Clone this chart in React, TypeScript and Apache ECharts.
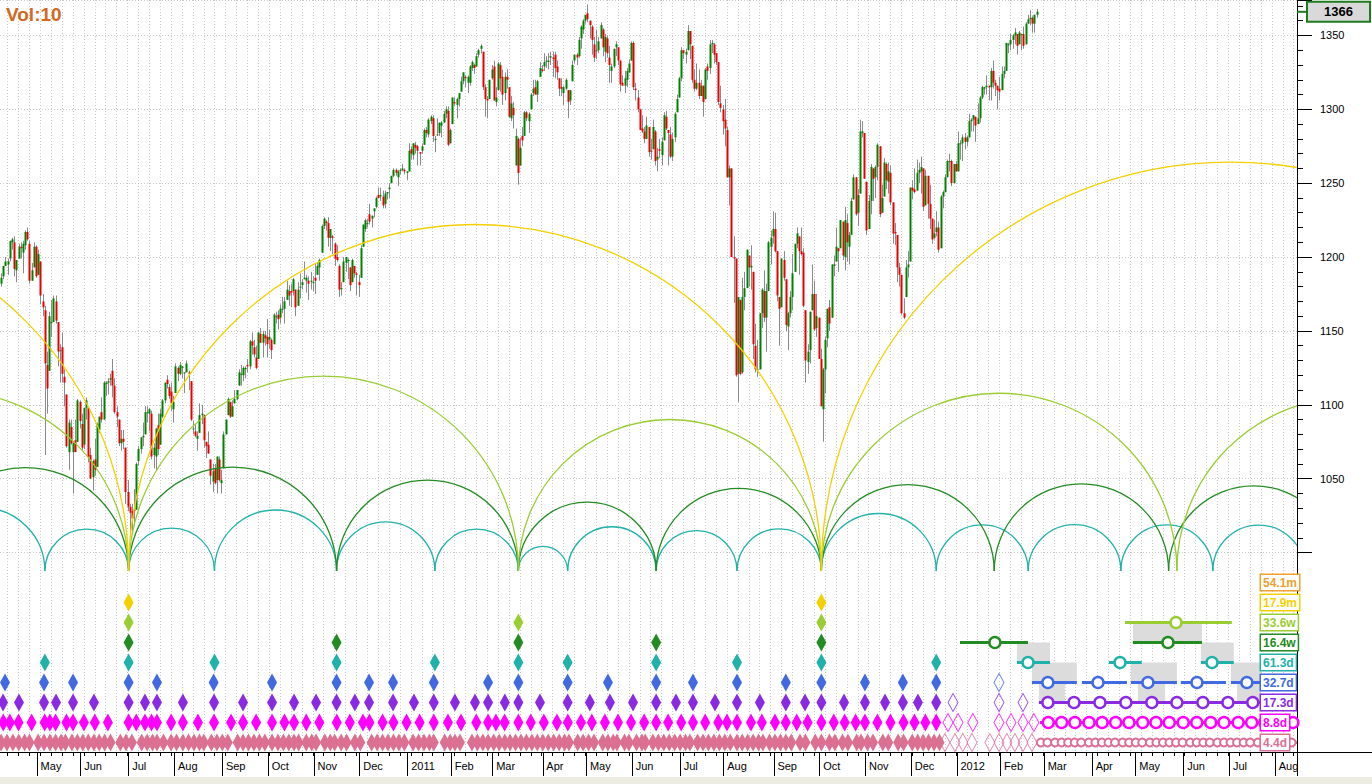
import React, { useEffect, useRef } from "react";
import * as echarts from "echarts";

// ---------- axis / calendar ----------
const START_DATE = "2010-04-08";
const N_DAYS = 595;
const HOLIDAYS = ["2010-05-31","2010-07-05","2010-09-06","2010-11-25","2010-12-24","2011-01-17","2011-02-21","2011-04-22","2011-05-30","2011-07-04","2011-09-05","2011-11-24","2011-12-26","2012-01-02","2012-01-16","2012-02-20","2012-04-06","2012-05-28","2012-07-04"];
const MONTH_NAMES = ["Jan","Feb","Mar","Apr","May","Jun","Jul","Aug","Sep","Oct","Nov","Dec"];

const PRICE_MIN = 865;
const PRICE_MAX = 1374;
const SCALE_MIN = 1000;
const PRICE_TICK = 50;
const ARC_BASE = 987.5;
const VOL_LABEL = "Vol:10";

// ---------- S&P 500 daily candles [open, close, low, high] ----------
const C_2010_04 = [[1182,1186,1180,1189],[1187,1194,1185,1194],[1194,1197,1194,1200],[1195,1197,1188,1199],[1199,1211,1197,1211],[1210,1212,1205,1213],[1210,1192,1187,1214],[1191,1198,1183,1198],[1199,1207,1199,1209],[1207,1206,1199,1210],[1203,1209,1189,1211],[1208,1217,1205,1218],[1217,1212,1211,1220],[1209,1184,1182,1211],[1184,1191,1184,1196],[1193,1207,1193,1210],[1207,1187,1186,1208]];
const C_2010_05 = [[1188,1202,1188,1205],[1197,1174,1168,1197],[1170,1166,1160,1175],[1164,1128,1066,1167],[1127,1111,1094,1136],[1123,1160,1123,1163],[1156,1156,1146,1171],[1156,1172,1156,1174],[1170,1157,1155,1174],[1156,1136,1126,1156],[1137,1137,1115,1141],[1139,1121,1115,1149],[1119,1115,1099,1124],[1107,1072,1071,1107],[1068,1088,1056,1090],[1085,1074,1073,1090],[1068,1074,1040,1075],[1076,1068,1068,1090],[1075,1103,1075,1104],[1102,1089,1084,1103]];
const C_2010_06 = [[1087,1071,1069,1094],[1073,1098,1070,1098],[1098,1103,1090,1105],[1098,1065,1061,1098],[1066,1050,1050,1071],[1051,1062,1042,1063],[1063,1056,1052,1077],[1058,1087,1058,1088],[1083,1092,1081,1092],[1095,1090,1088,1105],[1090,1115,1090,1116],[1114,1115,1106,1116],[1115,1116,1107,1118],[1117,1118,1113,1121],[1123,1113,1105,1131],[1113,1095,1094,1118],[1095,1092,1085,1099],[1090,1074,1072,1090],[1074,1077,1069,1083],[1077,1075,1070,1083],[1071,1041,1033,1071],[1041,1031,1028,1049]];
const C_2010_07 = [[1031,1027,1011,1033],[1028,1023,1015,1033],[1029,1028,1018,1043],[1029,1060,1029,1061],[1062,1070,1059,1072],[1070,1078,1067,1078],[1078,1079,1072,1088],[1080,1095,1080,1099],[1095,1095,1088,1099],[1094,1097,1082,1098],[1094,1065,1063,1096],[1066,1071,1057,1074],[1065,1084,1056,1084],[1086,1070,1066,1094],[1073,1094,1073,1097],[1092,1103,1091,1104],[1103,1115,1101,1115],[1117,1114,1111,1120],[1112,1106,1104,1114],[1109,1101,1096,1115],[1097,1102,1088,1106]];
const C_2010_08 = [[1108,1126,1108,1128],[1125,1121,1116,1126],[1121,1127,1120,1129],[1125,1126,1118,1126],[1122,1122,1108,1122],[1122,1128,1122,1130],[1122,1121,1110,1123],[1116,1090,1089,1116],[1084,1084,1080,1089],[1082,1079,1078,1087],[1077,1079,1069,1082],[1081,1093,1081,1101],[1093,1094,1087,1100],[1093,1076,1071,1093],[1075,1072,1064,1075],[1073,1067,1067,1082],[1063,1052,1046,1063],[1048,1055,1041,1060],[1057,1047,1046,1060],[1049,1065,1040,1065],[1063,1049,1048,1065],[1047,1049,1040,1056]];
const C_2010_09 = [[1057,1080,1057,1082],[1080,1090,1080,1090],[1093,1104,1093,1105],[1102,1092,1091,1102],[1092,1099,1092,1103],[1101,1104,1101,1110],[1104,1110,1103,1110],[1113,1122,1113,1124],[1121,1121,1113,1127],[1120,1125,1116,1126],[1124,1125,1118,1126],[1127,1126,1122,1131],[1126,1143,1124,1144],[1143,1140,1134,1149],[1139,1134,1132,1144],[1132,1125,1124,1140],[1131,1149,1131,1149],[1148,1142,1142,1152],[1142,1148,1132,1150],[1147,1145,1140,1150],[1146,1141,1132,1158]];
const C_2010_10 = [[1144,1146,1138,1151],[1144,1137,1131,1145],[1141,1161,1141,1162],[1160,1160,1155,1163],[1161,1158,1151,1164],[1159,1165,1155,1168],[1165,1165,1162,1173],[1165,1170,1155,1173],[1171,1178,1171,1184],[1177,1174,1167,1181],[1177,1176,1166,1182],[1177,1185,1174,1186],[1178,1166,1160,1178],[1167,1178,1167,1183],[1180,1180,1172,1189],[1181,1183,1178,1185],[1185,1186,1185,1197],[1184,1186,1176,1188],[1184,1182,1171,1187],[1184,1184,1178,1190],[1183,1183,1177,1187]];
const C_2010_11 = [[1186,1184,1175,1196],[1188,1194,1188,1196],[1193,1198,1184,1199],[1203,1221,1203,1222],[1221,1226,1219,1227],[1224,1223,1218,1225],[1223,1213,1207,1227],[1213,1219,1204,1219],[1214,1213,1202,1215],[1209,1199,1194,1210],[1200,1198,1197,1208],[1194,1178,1173,1195],[1179,1179,1174,1183],[1183,1197,1183,1200],[1196,1200,1190,1200],[1198,1198,1185,1199],[1193,1181,1177,1193],[1183,1198,1183,1199],[1194,1189,1186,1194],[1189,1188,1174,1190],[1183,1181,1173,1188]];
const C_2010_12 = [[1186,1206,1186,1208],[1207,1222,1207,1222],[1219,1225,1217,1226],[1223,1223,1220,1226],[1229,1224,1222,1236],[1226,1228,1220,1228],[1231,1233,1227,1233],[1234,1240,1233,1241],[1242,1240,1240,1247],[1241,1242,1238,1247],[1241,1235,1233,1245],[1236,1243,1233,1245],[1243,1244,1239,1244],[1246,1247,1240,1250],[1250,1255,1250,1255],[1255,1259,1254,1260],[1259,1257,1255,1260],[1254,1258,1248,1259],[1259,1259,1256,1260],[1259,1260,1258,1263],[1259,1258,1256,1260],[1257,1258,1252,1258]];
const C_2011_01 = [[1258,1272,1258,1277],[1273,1270,1266,1275],[1269,1277,1266,1277],[1276,1274,1270,1278],[1275,1272,1262,1276],[1271,1270,1262,1271],[1272,1275,1270,1277],[1276,1286,1276,1287],[1286,1284,1281,1288],[1283,1293,1281,1294],[1292,1295,1290,1296],[1294,1282,1278,1296],[1280,1280,1271,1282],[1283,1283,1282,1294],[1284,1291,1282,1291],[1289,1291,1281,1292],[1291,1297,1291,1299],[1297,1300,1294,1302],[1299,1276,1275,1302],[1277,1286,1277,1287]];
const C_2011_02 = [[1290,1308,1290,1308],[1305,1304,1302,1308],[1303,1307,1294,1308],[1307,1311,1302,1311],[1312,1319,1312,1322],[1319,1325,1317,1325],[1322,1321,1315,1323],[1318,1322,1311,1323],[1318,1329,1316,1330],[1328,1332,1326,1333],[1330,1328,1324,1331],[1329,1336,1329,1338],[1337,1340,1335,1341],[1341,1343,1338,1344],[1339,1315,1313,1339],[1315,1307,1295,1317],[1307,1306,1294,1309],[1307,1320,1307,1320],[1321,1327,1320,1330]];
const C_2011_03 = [[1329,1306,1306,1333],[1305,1308,1302,1315],[1313,1331,1313,1332],[1330,1321,1312,1332],[1322,1310,1303,1327],[1311,1322,1306,1325],[1322,1320,1314,1327],[1315,1295,1294,1315],[1294,1304,1292,1309],[1301,1296,1287,1305],[1262,1282,1262,1287],[1280,1257,1249,1281],[1262,1274,1262,1281],[1282,1279,1275,1288],[1282,1298,1282,1299],[1298,1294,1292,1299],[1292,1297,1284,1298],[1300,1310,1300,1311],[1311,1314,1309,1320],[1315,1310,1310,1320],[1310,1319,1305,1320],[1322,1328,1322,1332],[1327,1326,1325,1330]];
const C_2011_04 = [[1329,1332,1326,1338],[1333,1333,1328,1336],[1332,1333,1327,1338],[1335,1336,1330,1339],[1335,1334,1322,1339],[1337,1328,1321,1339],[1329,1325,1320,1333],[1321,1314,1309,1321],[1315,1314,1309,1321],[1311,1315,1303,1316],[1314,1320,1313,1321],[1313,1305,1294,1313],[1306,1313,1303,1313],[1319,1330,1319,1333],[1333,1337,1331,1337],[1337,1335,1330,1338],[1336,1347,1335,1349],[1348,1356,1341,1357],[1354,1360,1351,1361],[1360,1364,1358,1364]];
const C_2011_05 = [[1365,1361,1359,1371],[1360,1357,1348,1360],[1356,1347,1337,1357],[1344,1335,1332,1349],[1340,1340,1334,1354],[1340,1346,1338,1349],[1348,1357,1348,1359],[1354,1342,1336,1355],[1339,1349,1332,1351],[1348,1338,1335,1350],[1335,1330,1318,1343],[1326,1329,1318,1331],[1329,1341,1328,1341],[1342,1344,1336,1346],[1342,1333,1330,1342],[1333,1317,1312,1333],[1318,1316,1316,1323],[1316,1321,1311,1326],[1320,1326,1315,1328],[1325,1331,1325,1334],[1333,1345,1333,1346]];
const C_2011_06 = [[1345,1315,1313,1346],[1314,1313,1306,1318],[1308,1300,1298,1313],[1300,1286,1286,1300],[1287,1285,1284,1296],[1285,1280,1277,1288],[1280,1289,1280,1295],[1288,1271,1268,1288],[1272,1272,1266,1280],[1273,1288,1273,1293],[1285,1265,1262,1286],[1266,1268,1258,1274],[1273,1272,1267,1280],[1269,1278,1262,1281],[1279,1296,1279,1298],[1295,1287,1286,1299],[1286,1284,1262,1286],[1283,1268,1267,1288],[1268,1280,1265,1284],[1281,1297,1278,1298],[1298,1307,1298,1310],[1308,1321,1308,1322]];
const C_2011_07 = [[1321,1340,1319,1342],[1340,1338,1334,1340],[1337,1339,1331,1341],[1340,1353,1340,1357],[1353,1344,1334,1353],[1343,1320,1318,1343],[1320,1314,1312,1327],[1314,1318,1313,1331],[1318,1309,1307,1327],[1309,1316,1309,1320],[1316,1305,1295,1316],[1307,1327,1307,1328],[1329,1326,1320,1331],[1328,1344,1324,1347],[1344,1345,1338,1347],[1344,1337,1331,1345],[1338,1332,1330,1338],[1332,1305,1303,1332],[1304,1301,1298,1316],[1300,1292,1283,1303]];
const C_2011_08 = [[1293,1287,1275,1307],[1286,1254,1254,1288],[1254,1260,1235,1262],[1260,1200,1200,1260],[1200,1199,1169,1214],[1199,1120,1119,1199],[1121,1173,1102,1173],[1171,1121,1120,1171],[1122,1173,1121,1186],[1173,1179,1164,1190],[1179,1205,1179,1205],[1201,1193,1180,1201],[1193,1194,1178,1208],[1190,1141,1131,1190],[1140,1124,1122,1155],[1124,1124,1119,1144],[1124,1162,1124,1162],[1162,1178,1152,1179],[1177,1159,1156,1191],[1159,1177,1136,1182],[1177,1210,1177,1211],[1207,1213,1195,1218],[1214,1219,1209,1231]];
const C_2011_09 = [[1219,1204,1203,1230],[1204,1174,1170,1204],[1173,1165,1140,1166],[1166,1199,1166,1199],[1198,1186,1184,1204],[1185,1154,1150,1185],[1153,1162,1137,1163],[1162,1173,1159,1177],[1173,1189,1164,1202],[1190,1209,1190,1209],[1209,1216,1206,1220],[1214,1204,1188,1214],[1204,1202,1201,1220],[1203,1167,1166,1206],[1164,1130,1115,1164],[1129,1136,1121,1141],[1137,1163,1128,1163],[1164,1175,1164,1195],[1175,1151,1150,1184],[1152,1160,1146,1175],[1159,1131,1131,1159]];
const C_2011_10 = [[1131,1099,1099,1138],[1097,1124,1075,1125],[1124,1144,1108,1146],[1145,1165,1139,1165],[1166,1155,1150,1171],[1159,1195,1159,1195],[1194,1195,1187,1201],[1197,1207,1197,1220],[1206,1204,1190,1206],[1206,1225,1206,1225],[1224,1201,1198,1224],[1200,1225,1191,1234],[1223,1210,1197,1229],[1207,1215,1195,1217],[1215,1238,1215,1240],[1239,1254,1239,1256],[1254,1229,1228,1254],[1230,1242,1221,1246],[1243,1285,1243,1293],[1284,1285,1281,1292],[1284,1253,1253,1284]];
const C_2011_11 = [[1251,1218,1215,1251],[1219,1238,1219,1242],[1238,1261,1229,1263],[1260,1253,1238,1260],[1254,1261,1240,1262],[1261,1276,1252,1277],[1275,1229,1227,1275],[1230,1240,1230,1249],[1241,1264,1241,1267],[1263,1252,1246,1264],[1251,1258,1243,1264],[1257,1237,1235,1262],[1237,1216,1209,1237],[1217,1216,1208,1223],[1215,1193,1183,1215],[1193,1188,1180,1196],[1188,1162,1161,1188],[1162,1159,1158,1172],[1173,1193,1173,1198],[1193,1195,1186,1204],[1197,1247,1197,1247]];
const C_2011_12 = [[1247,1245,1239,1252],[1246,1244,1243,1260],[1245,1257,1245,1266],[1257,1259,1250,1264],[1258,1261,1243,1268],[1260,1234,1231,1260],[1235,1255,1235,1259],[1255,1236,1226,1255],[1236,1226,1219,1249],[1226,1212,1209,1226],[1213,1216,1212,1225],[1217,1220,1214,1231],[1220,1205,1203,1224],[1206,1241,1206,1242],[1241,1244,1233,1245],[1244,1254,1244,1256],[1254,1265,1254,1266],[1265,1265,1258,1270],[1265,1250,1248,1266],[1250,1263,1250,1263],[1263,1258,1258,1265]];
const C_2012_01 = [[1258,1277,1258,1285],[1277,1277,1266,1279],[1277,1281,1265,1283],[1281,1278,1273,1284],[1278,1281,1275,1282],[1281,1292,1281,1297],[1292,1293,1285,1294],[1293,1296,1285,1296],[1295,1289,1278,1295],[1290,1294,1290,1304],[1294,1308,1291,1309],[1308,1315,1307,1316],[1314,1315,1310,1315],[1315,1316,1310,1323],[1316,1315,1306,1316],[1315,1326,1306,1328],[1326,1318,1314,1333],[1318,1316,1309,1320],[1316,1313,1300,1316],[1314,1312,1306,1322]];
const C_2012_02 = [[1313,1324,1313,1329],[1324,1326,1321,1329],[1326,1345,1326,1345],[1344,1344,1338,1345],[1344,1347,1340,1351],[1347,1350,1341,1351],[1350,1352,1344,1355],[1351,1343,1337,1351],[1344,1352,1344,1353],[1351,1351,1340,1351],[1351,1343,1341,1356],[1344,1358,1344,1359],[1358,1361,1358,1364],[1361,1362,1357,1367],[1362,1358,1352,1363],[1358,1364,1352,1364],[1364,1366,1362,1368]];

const CANDLES = [...C_2010_04,...C_2010_05,...C_2010_06,...C_2010_07,...C_2010_08,...C_2010_09,...C_2010_10,...C_2010_11,...C_2010_12,...C_2011_01,...C_2011_02,...C_2011_03,...C_2011_04,...C_2011_05,...C_2011_06,...C_2011_07,...C_2011_08,...C_2011_09,...C_2011_10,...C_2011_11,...C_2011_12,...C_2012_01,...C_2012_02];

// ---------- cycles ----------
const CYCLE_NAMES = ["54.1m","17.9m","33.6w","16.4w","61.3d","32.7d","17.3d","8.8d","4.4d"];
const CYCLE_COLORS = ["#F0A030","#F5D000","#9ACD32","#228B22","#20B2AA","#4169E1","#8A2BE2","#FF00FF","#DB7093"];

// arc troughs (trading-day index)
const ARC_17_9M = [-267, 58.5, 376.3, 751.5];
const ARC_33_6W = [-106.5, 58.5, 237.3, 376.3, 539.4, 698.5];
const ARC_16_4W = [-36.3, 58.5, 153.9, 237.3, 300.5, 376.3, 455.6, 535.6, 613.7];
const ARC_61_3D = [-38, 20.1, 58.5, 97.9, 153.9, 199, 237.3, 259.9, 300.5, 337.6, 376.3, 429, 471.2, 513.7, 555.9, 598];

// confirmed troughs (filled diamonds)
const TR_17_9M = [58.5, 376.3];
const TR_33_6W = [58.5, 237.3, 376.3];
const TR_16_4W = [58.5, 153.9, 237.3, 300.5, 376.3];
const TR_61_3D = [20.1, 58.5, 97.9, 153.9, 199, 237.3, 259.9, 300.5, 337.6, 376.3, 429];
const TR_32_7D = [1.8, 19.7, 33, 58.5, 71.5, 97.5, 124.3, 153.9, 168.8, 179.8, 198.5, 223.4, 237.3, 259.9, 278.4, 300.5, 317.4, 337.6, 360, 376.3, 396.3, 413.7, 429];
const TR_17_3D = [0.9, 8.2, 19.7, 25.2, 33, 42.6, 58.5, 66, 71.5, 83.4, 97.7, 111, 124.3, 134.4, 144.5, 153.9, 162.3, 168.8, 179.8, 189.4, 198.5, 208.2, 217.4, 223.4, 231.1, 237.3, 247.2, 259.9, 270.1, 279.3, 289.9, 300.5, 309.6, 317.4, 327.5, 337.6, 348.1, 360, 368.8, 376.3, 386.7, 396.3, 405.5, 413.7, 420.6, 429];
const TR_8_8D = [1, 4, 8, 14, 20, 22.4, 25, 30, 33, 38, 43, 49, 58.5, 62, 66, 69, 71.5, 78, 83.4, 90.3, 97.7, 105.5, 111, 117, 124.3, 130, 134.4, 140, 146, 154, 160, 166, 169, 175, 180, 186, 192, 198.5, 205, 211, 218, 223.4, 227, 231, 237.3, 243, 249, 255, 260, 266, 271, 277, 283, 289, 295, 300.5, 306, 312, 317.4, 323, 329, 333, 337.6, 344, 349, 355, 360, 365, 370, 376.3, 382, 387, 392, 396.3, 402, 408, 414, 419, 424, 429];
const TR_4_4D = [0, 2.7, 5.4, 8.1, 10.8, 13, 17, 19.7, 22.4, 25, 27.5, 29.5, 32.5, 35, 37.5, 40, 42.6, 45, 47.5, 50.2, 54.7, 57.3, 60, 64.5, 67, 69.5, 71.5, 74.5, 78, 80.5, 83.4, 86, 88.5, 91, 93, 96.5, 99, 101.5, 104, 108.5, 111, 113.5, 116, 118.5, 121, 124.3, 127, 129.5, 132, 134.4, 136.5, 140, 142.5, 144.5, 148.5, 151, 153, 156, 158.5, 162.3, 164.8, 170, 172.5, 175, 177.5, 180, 182.5, 185, 189, 191.5, 194, 196.5, 198.5, 203.5, 206, 208.2, 210.5, 216, 218.5, 221, 223.4, 226, 228.5, 231.1, 233.5, 236, 238.5, 241, 243.5, 246, 248.5, 251, 253.5, 256, 258.5, 260.5, 264.5, 267, 269.5, 272, 276, 278.4, 280.8, 282.5, 286, 288, 291.5, 294, 295.5, 299, 301.5, 304, 306.5, 309, 311.5, 314, 316, 319.5, 322, 324.5, 327, 329.5, 332, 334.5, 337.6, 340, 342.5, 345, 347.5, 349.5, 352.5, 355, 357.5, 360, 362.5, 366.5, 369, 373.5, 376.3, 380, 382.5, 386, 388.5, 392.5, 394.5, 397.5, 400, 404.5, 407, 411.5, 414, 418, 420.5, 423, 425.5, 428, 430.5];

// unconfirmed troughs (hollow diamonds)
const UN_32_7D = [457.8];
const UN_17_3D = [436.7, 457.8, 468.8];
const UN_8_8D = [434.4, 439, 445.8, 457.8, 463.3, 468.8, 473.8];
const UN_4_4D = [433, 437.6, 441.2, 445.4, 453.6, 457.8, 461.4, 465.1, 468.8, 472.9];

// projected troughs: ranges and centres
const PR_33_6W = [[515.6, 564.6]];
const PC_33_6W = [539];
const PR_16_4W = [[439.9, 471.1], [519.2, 550.9]];
const PC_16_4W = [455.9, 535.3];
const PR_61_3D = [[466, 481.2], [508.2, 523.3], [550.4, 565.5]];
const PC_61_3D = [471.1, 513.3, 555.5];
const PR_32_7D = [[472.9, 493.5], [495.8, 516.5], [518.3, 539.4], [541.2, 561.9], [564.2, 596]];
const PC_32_7D = [480.2, 503.2, 526.1, 548.6, 571.5];
const PR_17_3D = [[476.1, 596]];
const PC_17_3D = [480.2, 492.2, 504.1, 516, 527.9, 539.4, 551.3, 562.8, 574.2, 586.2];
const PR_8_8D = [[476.6, 596]];
const PC_8_8D = [480.4, 486.5, 492.6, 499.1, 505.1, 511.3, 517.4, 523.7, 529.8, 535.9, 542.3, 548.5, 554.9, 561, 567.5, 573.7, 579.8, 586.2, 592.6];
const PR_4_4D = [[475.6, 596]];
const PC_4_4D = [477, 480, 483.5, 486.5, 489.5, 492.5, 495.5, 499, 502, 505, 508, 511, 514.5, 517.5, 520.5, 523.5, 527, 530, 533, 536, 539, 542, 545.5, 548.5, 551.5, 554.5, 558, 561, 564, 567, 570, 573, 576.5, 579.5, 582.5, 585.5, 589, 592];

// shaded projection windows [from, to, upper row, lower row]
const WINDOWS = [[466, 481.2, 3, 4], [519.2, 550.9, 2, 3], [550.4, 565.5, 3, 4], [472.9, 493.5, 4, 5], [518.3, 539.4, 4, 5], [564.2, 578, 4, 5], [476.1, 488, 5, 6], [521.5, 534, 5, 6], [567, 578, 5, 6]];

// ---------- helpers ----------
function tradingDays(): string[] {
  const out: string[] = [];
  const hol = new Set(HOLIDAYS);
  const d = new Date(START_DATE + "T00:00:00Z");
  while (out.length < N_DAYS) {
    const wd = d.getUTCDay();
    const s = d.toISOString().slice(0, 10);
    if (wd !== 0 && wd !== 6 && !hol.has(s)) out.push(s);
    d.setUTCDate(d.getUTCDate() + 1);
  }
  return out;
}

function buildOption() {
  const dates = tradingDays();
  const monthLabel: string[] = dates.map((s, i) => {
    if (i === 0) return "";
    if (s.slice(5, 7) === dates[i - 1].slice(5, 7)) return "";
    const m = parseInt(s.slice(5, 7), 10) - 1;
    return m === 0 ? s.slice(0, 4) : MONTH_NAMES[m];
  });
  const halfCats: string[] = [];
  for (let m = 0; m < dates.length * 2; m++) halfCats.push(String(m));
  const weekTick = (m: number) => m % 2 === 1 && ((m - 1) / 2) % 5 === 3;
  const monthTick = (m: number) => m % 2 === 0 && monthLabel[m / 2] !== "";

  const gridBase = { left: 0, width: 1297, containLabel: false, outerBoundsMode: "none" } as any;
  const priceH = 752;
  const scaleH = (priceH * (PRICE_MAX - SCALE_MIN)) / (PRICE_MAX - PRICE_MIN);

  const rich: any = {};
  CYCLE_NAMES.forEach((n, i) => {
    rich["c" + i] = {
      color: CYCLE_COLORS[i], fontWeight: "bold", fontSize: 12, fontFamily: "Arial",
      backgroundColor: "#fff", borderColor: CYCLE_COLORS[i], borderWidth: 1.5, padding: [2, 2, 1, 2],
    };
  });

  const series: any[] = [];

  series.push({
    type: "custom", name: "SPX", xAxisIndex: 2, yAxisIndex: 0, clip: true, z: 5,
    data: CANDLES.map((c, i) => [i, c[0], c[1], c[2], c[3]]),
    renderItem: (params: any, api: any) => {
      const i = api.value(0);
      const o = api.value(1), c = api.value(2), l = api.value(3), h = api.value(4);
      const pH = api.coord([i, h]), pL = api.coord([i, l]);
      const pO = api.coord([i, o]), pC = api.coord([i, c]);
      const top = Math.min(pO[1], pC[1]);
      const hh = Math.max(1, Math.abs(pO[1] - pC[1]));
      const x = Math.round(pO[0]);
      return {
        type: "group",
        children: [
          { type: "line", shape: { x1: x + 0.5, y1: pH[1], x2: x + 0.5, y2: pL[1] }, style: { stroke: "#8a8a8a", lineWidth: 1 } },
          { type: "rect", shape: { x: x - 0.5, y: top, width: 2, height: hh }, style: { fill: c >= o ? "#008000" : "#E80000" } },
        ],
      };
    },
  });

  const arcSets: [number[], number][] = [[ARC_61_3D, 4], [ARC_16_4W, 3], [ARC_33_6W, 2], [ARC_17_9M, 1]];
  arcSets.forEach(([tr, ci]) => {
    const pairs: number[][] = [];
    for (let k = 0; k + 1 < tr.length; k++) pairs.push([tr[k], tr[k + 1]]);
    const color = CYCLE_COLORS[ci];
    series.push({
      type: "custom", name: CYCLE_NAMES[ci] + " arcs", xAxisIndex: 2, yAxisIndex: 0, clip: true, z: 6,
      data: pairs,
      renderItem: (params: any, api: any) => {
        const p1 = api.coord([api.value(0), ARC_BASE]);
        const p2 = api.coord([api.value(1), ARC_BASE]);
        const r = (p2[0] - p1[0]) / 2;
        return {
          type: "arc",
          shape: { cx: (p1[0] + p2[0]) / 2, cy: p1[1], r, startAngle: Math.PI, endAngle: 2 * Math.PI, clockwise: true },
          style: { stroke: color, fill: null, lineWidth: 1.3 },
        };
      },
    });
  });

  series.push({
    type: "custom", name: "windows", xAxisIndex: 4, yAxisIndex: 2, clip: true, z: 1,
    data: WINDOWS,
    renderItem: (params: any, api: any) => {
      const p1 = api.coord([api.value(0), api.value(2)]);
      const p2 = api.coord([api.value(1), api.value(3)]);
      return { type: "rect", shape: { x: p1[0], y: p1[1], width: p2[0] - p1[0], height: p2[1] - p1[1] }, style: { fill: "#DCDCDC" } };
    },
  });

  const diamonds: [number[], number][] = [[TR_17_9M, 1], [TR_33_6W, 2], [TR_16_4W, 3], [TR_61_3D, 4], [TR_32_7D, 5], [TR_17_3D, 6], [TR_8_8D, 7], [TR_4_4D, 8]];
  diamonds.forEach(([xs, ci]) => {
    series.push({
      type: "scatter", name: CYCLE_NAMES[ci], xAxisIndex: 4, yAxisIndex: 2, z: 3,
      symbol: "diamond", symbolSize: [10, 18],
      itemStyle: { color: CYCLE_COLORS[ci], opacity: 1 },
      data: xs.map((x) => [x, CYCLE_NAMES[ci]]),
    });
  });
  const hollow: [number[], number][] = [[UN_32_7D, 5], [UN_17_3D, 6], [UN_8_8D, 7], [UN_4_4D, 8]];
  hollow.forEach(([xs, ci]) => {
    series.push({
      type: "scatter", name: CYCLE_NAMES[ci] + " open", xAxisIndex: 4, yAxisIndex: 2, z: 3,
      symbol: "diamond", symbolSize: [10, 18],
      itemStyle: { color: "rgba(255,255,255,0)", borderColor: CYCLE_COLORS[ci], borderWidth: 1 },
      data: xs.map((x) => [x, CYCLE_NAMES[ci]]),
    });
  });

  const proj: [number[][], number[], number][] = [[PR_33_6W, PC_33_6W, 2], [PR_16_4W, PC_16_4W, 3], [PR_61_3D, PC_61_3D, 4], [PR_32_7D, PC_32_7D, 5], [PR_17_3D, PC_17_3D, 6], [PR_8_8D, PC_8_8D, 7], [PR_4_4D, PC_4_4D, 8]];
  proj.forEach(([ranges, centres, ci]) => {
    const color = CYCLE_COLORS[ci];
    series.push({
      type: "custom", name: CYCLE_NAMES[ci] + " range", xAxisIndex: 4, yAxisIndex: 2, clip: true, z: 3,
      data: ranges.map((r) => [r[0], ci, r[1]]),
      renderItem: (params: any, api: any) => {
        const p1 = api.coord([api.value(0), api.value(1)]);
        const p2 = api.coord([api.value(2), api.value(1)]);
        return { type: "line", shape: { x1: p1[0], y1: p1[1], x2: p2[0], y2: p2[1] }, style: { stroke: color, lineWidth: 3 } };
      },
    });
    series.push({
      type: "scatter", name: CYCLE_NAMES[ci] + " next", xAxisIndex: 4, yAxisIndex: 2, z: 4,
      symbol: "circle", symbolSize: ci === 8 ? 8 : 11,
      itemStyle: { color: "#fff", borderColor: color, borderWidth: ci === 8 ? 2 : 2.5, opacity: 1 },
      data: centres.map((x) => [x, CYCLE_NAMES[ci]]),
    });
  });

  const dotted = { color: "#c8c8c8", type: [1, 2], width: 1 };

  return {
    animation: false,
    backgroundColor: "#ffffff",
    textStyle: { fontFamily: "Arial" },
    grid: [
      { ...gridBase, top: 0, height: priceH },
      { ...gridBase, top: 0, height: scaleH },
      { ...gridBase, top: 572.5, height: 180 },
    ],
    xAxis: [
      {
        type: "category", gridIndex: 0, data: halfCats, boundaryGap: true, position: "bottom",
        axisLine: { show: true, onZero: false, lineStyle: { color: "#000", width: 1 } },
        axisTick: { show: true, interval: (m: number) => weekTick(m), length: 4, lineStyle: { color: "#000" } },
        splitLine: { show: true, interval: (m: number) => weekTick(m), lineStyle: dotted },
        axisLabel: { show: false },
      },
      {
        type: "category", gridIndex: 0, data: halfCats, boundaryGap: true, position: "bottom",
        axisLine: { show: false, onZero: false },
        axisTick: { show: true, interval: (m: number) => monthTick(m), length: 24, lineStyle: { color: "#000" } },
        splitLine: { show: false },
        axisLabel: {
          show: true, interval: (m: number) => monthTick(m), align: "left", margin: 8, padding: [0, 0, 0, 3],
          fontSize: 11, color: "#000", fontFamily: "Arial",
          formatter: (v: string) => monthLabel[Math.floor(parseInt(v, 10) / 2)] || "",
        },
      },
      { type: "value", gridIndex: 0, min: -0.5, max: N_DAYS - 0.5, show: false, axisLine: { onZero: false } },
      { type: "value", gridIndex: 1, min: -0.5, max: N_DAYS - 0.5, show: false, axisLine: { onZero: false } },
      { type: "value", gridIndex: 2, min: -0.5, max: N_DAYS - 0.5, show: false, axisLine: { onZero: false } },
    ],
    yAxis: [
      {
        type: "value", gridIndex: 0, min: PRICE_MIN, max: PRICE_MAX, position: "right",
        axisLine: { show: true, onZero: false, lineStyle: { color: "#000" } }, axisTick: { show: false }, axisLabel: { show: false }, splitLine: { show: false },
      },
      {
        type: "value", gridIndex: 1, min: SCALE_MIN, max: PRICE_MAX, interval: PRICE_TICK, position: "right",
        axisLine: { show: false, onZero: false },
        axisTick: { show: true, length: 15, lineStyle: { color: "#000" } },
        minorTick: { show: true, splitNumber: 5, length: 6, lineStyle: { color: "#000" } },
        axisLabel: {
          show: true, margin: 23, fontSize: 11, color: "#000", fontFamily: "Arial", showMinLabel: false, showMaxLabel: false,
          formatter: (v: number) => (v >= SCALE_MIN + PRICE_TICK && v % PRICE_TICK === 0 ? String(v) : ""),
        },
        splitLine: { show: true, lineStyle: dotted },
      },
      {
        type: "category", gridIndex: 2, data: CYCLE_NAMES, inverse: true, position: "right", z: 10,
        axisLine: { show: false, onZero: false }, axisTick: { show: false }, splitLine: { show: false },
        axisLabel: {
          show: true, inside: true, margin: 36, align: "left",
          formatter: (v: string) => `{c${CYCLE_NAMES.indexOf(v)}|${v}}`, rich,
        },
      },
    ],
    series,
  };
}

export default function App() {
  const ref = useRef<HTMLDivElement>(null);
  useEffect(() => {
    if (!ref.current) return;
    const chart = echarts.init(ref.current, undefined, { renderer: "svg" });
    chart.setOption(buildOption() as any);
    const last = CANDLES[CANDLES.length - 1][1];
    const py = chart.convertToPixel({ yAxisIndex: 0 } as any, last) as unknown as number;
    chart.setOption({
      graphic: [
        { type: "rect", shape: { x: 0, y: 777, width: 1372, height: 7 }, style: { fill: "#ECECE3" }, z: 0 },
        { type: "line", shape: { x1: 1297, y1: 752.5, x2: 1372, y2: 752.5 }, style: { stroke: "#000", lineWidth: 1 }, z: 20 },
        { type: "text", left: 6, top: 5, z: 20, style: { text: VOL_LABEL, fill: "#D2691E", font: "bold 19px Arial" } },
        { type: "line", z: 20, shape: { x1: 1297, y1: py, x2: 1307, y2: py }, style: { stroke: "#1E7B1E", lineWidth: 2 } },
        { type: "rect", z: 20, shape: { x: 1307, y: py - 10, width: 63, height: 20 }, style: { fill: "#D9D9D9", stroke: "#1E7B1E", lineWidth: 2 } },
        { type: "text", z: 21, x: 1338.5, y: py, style: { text: String(Math.round(last)), fill: "#000", font: "bold 13px Arial", align: "center", verticalAlign: "middle" } },
      ],
    } as any);
    return () => chart.dispose();
  }, []);
  return <div ref={ref} style={{ position: "fixed", left: 0, top: 0, width: 1372, height: 784 }} />;
}
